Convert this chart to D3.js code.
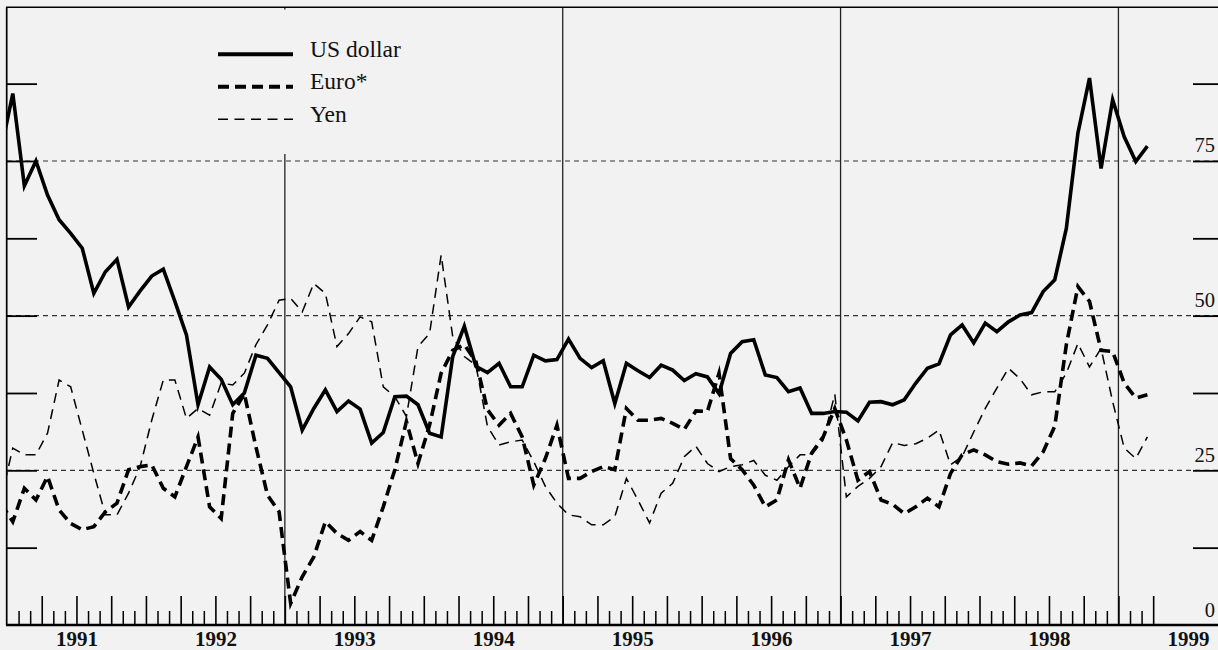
<!DOCTYPE html>
<html><head><meta charset="utf-8">
<script src="https://cdn.jsdelivr.net/npm/d3@7"></script>
<style>
html,body{margin:0;padding:0;background:#f2f2f2;}
svg{display:block;}
</style></head>
<body>
<svg id="chart" width="1218" height="650"></svg>
<script>
// ---- data (monthly, mid-month points, first point = Dec 1990) ----
const firstMonthOffset = -1; // months relative to Jan 1991
const usDollar = [76.8,85.9,71.0,75.0,69.5,65.5,63.3,60.9,53.6,57.1,59.1,51.4,54.0,
  56.4,57.5,52.3,46.9,35.6,41.7,39.7,35.6,37.5,43.6,43.1,40.8,
  38.5,31.5,35.0,38.0,34.5,36.2,34.9,29.4,31.1,36.9,37.0,35.6,
  31.0,30.4,43.4,48.3,41.8,40.8,42.3,38.5,38.5,43.6,42.7,42.9,
  46.2,43.1,41.6,42.7,35.8,42.3,41.1,40.0,42.0,41.2,39.5,40.6,
  40.1,37.4,43.9,45.8,46.1,40.4,40.0,37.7,38.3,34.2,34.2,34.5,
  34.4,33.0,36.0,36.1,35.6,36.4,39.1,41.5,42.2,46.9,48.5,45.6,
  48.8,47.4,49.0,50.1,50.5,53.9,55.8,64.1,79.5,88.4,73.8,84.9,
  78.9,74.9,77.4];
const euro = [19.6,16.7,22.1,20.2,24.0,18.6,16.4,15.4,15.9,18.3,19.7,25.1,25.6,
  25.9,22.1,20.7,25.6,30.4,19.1,17.2,34.2,37.4,28.8,21.0,18.3,
  3.5,7.8,11.0,16.7,14.8,13.7,15.1,13.7,19.1,25.1,32.9,26.1,
  32.3,40.7,44.4,45.3,42.6,34.8,32.3,34.2,30.4,22.6,26.9,32.3,
  23.7,23.7,24.8,25.6,25.1,35.0,33.1,33.1,33.4,32.6,31.6,34.6,
  34.5,40.7,26.9,25.1,22.6,19.1,20.2,26.7,22.1,27.8,30.4,35.0,
  29.9,23.4,24.8,20.2,19.5,18.0,19.1,20.5,19.1,24.5,27.5,28.3,
  27.5,26.4,26.0,26.2,25.7,28.0,32.1,45.3,54.7,52.3,44.4,44.2,
  39.1,36.7,37.2];
const yen = [20.5,28.6,27.5,27.5,31.0,39.6,38.5,31.5,24.5,17.8,17.8,21.3,25.6,
  33.1,39.6,39.6,33.4,35.0,33.9,39.1,38.8,40.7,45.3,48.5,52.5,
  52.8,50.6,55.2,53.6,45.0,47.1,49.8,49.0,38.5,36.9,33.7,45.0,
  47.1,59.8,46.6,43.4,42.0,32.1,29.1,29.6,29.9,26.4,22.4,19.7,
  17.8,17.5,16.2,16.2,17.5,23.7,20.2,16.5,21.3,22.9,27.2,28.9,
  26.1,24.8,25.6,25.9,26.6,24.2,23.4,25.6,27.5,27.5,29.9,37.3,
  20.7,22.4,23.7,25.6,29.5,29.0,29.3,30.2,31.5,25.9,27.2,31.2,
  35.0,38.3,41.5,39.8,37.2,37.7,37.7,40.7,45.5,41.7,44.7,36.1,
  28.6,26.9,30.4];
const seriesNames = ["US dollar", "Euro*", "Yen"];
const yearLabels = ["1991","1992","1993","1994","1995","1996","1997","1998","1999"];
const valueLabels = [0, 25, 50, 75];
const gridLevels = [25, 50, 75];
const sideTickLevels = [12.5, 25, 37.5, 50, 62.5, 75, 87.5];
const dividerYears = ["1993","1995","1997","1999"];

// ---- scales ----
const W = 1218, H = 650;
const plotLeft = 7, plotRight = 1218, plotTop = 7.3, plotBottom = 625;
const x = d3.scaleLinear().domain([0, 104.6]).range([plotLeft, plotRight]); // months since Jan 1991
const y = d3.scaleLinear().domain([0, 100]).range([plotBottom, 6.3]);
const yearMonth = yr => (+yr - 1991) * 12;
const serif = "'Liberation Serif', 'Times New Roman', serif";

const svg = d3.select("#chart");
svg.append("rect").attr("width", W).attr("height", H).attr("fill", "#f2f2f2");

svg.append("defs").append("clipPath").attr("id", "plotclip")
  .append("rect").attr("x", plotLeft).attr("y", plotTop)
  .attr("width", plotRight - plotLeft).attr("height", plotBottom - plotTop);

// grid lines (dashed)
svg.append("g").selectAll("line").data(gridLevels).join("line")
  .attr("x1", plotLeft).attr("x2", plotRight)
  .attr("y1", d => y(d)).attr("y2", d => y(d))
  .attr("stroke", "#333").attr("stroke-width", 1.2).attr("stroke-dasharray", "5,4");

// vertical divider lines
svg.append("g").selectAll("line").data(dividerYears).join("line")
  .attr("x1", d => x(yearMonth(d))).attr("x2", d => x(yearMonth(d)))
  .attr("y1", plotTop).attr("y2", plotBottom)
  .attr("stroke", "#222").attr("stroke-width", 1.3);

// left ticks
const leftAxis = svg.append("g").attr("transform", `translate(${plotLeft},0)`)
  .call(d3.axisRight(y).tickValues(sideTickLevels).tickSize(30).tickFormat(""));
leftAxis.select(".domain").remove();
leftAxis.selectAll(".tick line").attr("stroke", "#000").attr("stroke-width", 1.8);

// right ticks
const rightAxis = svg.append("g").attr("transform", `translate(${plotRight},0)`)
  .call(d3.axisLeft(y).tickValues(sideTickLevels).tickSize(25).tickFormat(""));
rightAxis.select(".domain").remove();
rightAxis.selectAll(".tick line").attr("stroke", "#000").attr("stroke-width", 1.8);

// right value labels
svg.append("g").selectAll("text").data(valueLabels).join("text")
  .attr("x", 1215).attr("y", d => y(d) - 8.5)
  .attr("text-anchor", "end")
  .attr("font-family", serif).attr("font-size", 20.5)
  .attr("fill", "#111").text(d => d);

// month ticks
const monthTicks = d3.range(1, 100);
const minorAxis = svg.append("g").attr("transform", `translate(0,${plotBottom})`)
  .call(d3.axisTop(x).tickValues(monthTicks.filter(m => m % 3 !== 0)).tickSize(14).tickFormat(""));
minorAxis.select(".domain").remove();
minorAxis.selectAll(".tick line").attr("stroke", "#000").attr("stroke-width", 1.5);
const majorAxis = svg.append("g").attr("transform", `translate(0,${plotBottom})`)
  .call(d3.axisTop(x).tickValues(monthTicks.filter(m => m % 3 === 0)).tickSize(29).tickFormat(""));
majorAxis.select(".domain").remove();
majorAxis.selectAll(".tick line").attr("stroke", "#000").attr("stroke-width", 1.6);

// year labels
const yearAxis = svg.append("g").attr("transform", `translate(0,${plotBottom})`)
  .call(d3.axisBottom(x).tickValues(yearLabels.map(yr => yearMonth(yr) + 6)).tickSize(0)
    .tickFormat((d, i) => yearLabels[i]));
yearAxis.select(".domain").remove();
yearAxis.selectAll("text").attr("font-family", serif).attr("font-size", 21)
  .attr("font-weight", "bold").attr("fill", "#111").attr("dy", null).attr("y", 20.5);

// frame
svg.append("line").attr("x1", 6).attr("x2", plotRight).attr("y1", plotBottom).attr("y2", plotBottom)
  .attr("stroke", "#000").attr("stroke-width", 2.3);
svg.append("line").attr("x1", 6).attr("x2", plotRight).attr("y1", plotTop).attr("y2", plotTop)
  .attr("stroke", "#000").attr("stroke-width", 1.6);
svg.append("line").attr("x1", 6.7).attr("x2", 6.7).attr("y1", plotTop).attr("y2", plotBottom)
  .attr("stroke", "#000").attr("stroke-width", 1.7);

// legend background (hides divider under legend)
svg.append("rect").attr("x", 200).attr("y", 9.5).attr("width", 220).attr("height", 144.5)
  .attr("fill", "#f2f2f2");

// series
const styles = [
  {data: usDollar, width: 3.6, dash: null},
  {data: euro, width: 3.6, dash: "11,6"},
  {data: yen, width: 1.5, dash: "10,6.5"}
];
const line = d3.line().x((d, i) => x(i + firstMonthOffset + 0.5)).y(d => y(d));
const gSeries = svg.append("g").attr("clip-path", "url(#plotclip)");
styles.slice().reverse().forEach(s => {
  gSeries.append("path").datum(s.data)
    .attr("d", line).attr("fill", "none").attr("stroke", "#000")
    .attr("stroke-width", s.width).attr("stroke-linejoin", "miter")
    .attr("stroke-miterlimit", 6)
    .attr("stroke-dasharray", s.dash);
});

// legend
const legendY = [54.3, 86.7, 119.3];
const lg = svg.append("g");
styles.forEach((s, i) => {
  lg.append("line").attr("x1", 218).attr("x2", 293).attr("y1", legendY[i]).attr("y2", legendY[i])
    .attr("stroke", "#000").attr("stroke-width", i === 2 ? 1.5 : 4).attr("stroke-dasharray", s.dash);
  lg.append("text").attr("x", 310).attr("y", legendY[i] + 2.5)
    .attr("font-family", serif).attr("font-size", 23.5).attr("fill", "#111")
    .text(seriesNames[i]);
});
</script>
</body></html>
